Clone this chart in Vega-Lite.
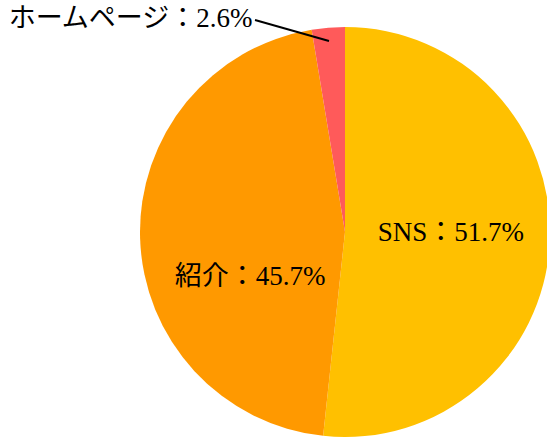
{
  "$schema": "https://vega.github.io/schema/vega-lite/v6.json",
  "width": 690,
  "height": 464,
  "autosize": "none",
  "padding": 0,
  "background": "white",
  "view": {"stroke": null},
  "config": {"font": "Liberation Serif, Noto Sans CJK JP"},
  "data": {
    "values": [
      {"category": "SNS", "value": 51.7},
      {"category": "紹介", "value": 45.7},
      {"category": "ホームページ", "value": 2.6}
    ]
  },
  "layer": [
    {
      "transform": [
        {"window": [{"op": "row_number", "as": "idx"}]},
        {"calculate": "datum.category + '：' + format(datum.value, '.1f') + '%'", "as": "label"}
      ],
      "encoding": {
        "theta": {"field": "value", "type": "quantitative", "stack": true},
        "order": {"field": "idx", "type": "quantitative"},
        "color": {
          "field": "category",
          "type": "nominal",
          "scale": {"domain": ["SNS", "紹介", "ホームページ"], "range": ["#FFC000", "#FF9900", "#FF5A5A"]},
          "legend": null
        }
      },
      "layer": [
        {"mark": {"type": "arc", "outerRadius": 205}},
        {
          "mark": {"type": "text", "radius": 106, "fontSize": 27, "align": "center", "baseline": "middle", "dy": -5, "font": "Liberation Serif, Noto Sans CJK JP"},
          "encoding": {
            "text": {"condition": {"test": "datum.category === 'SNS'", "field": "label"}, "value": ""},
            "color": {"value": "black"}
          }
        },
        {
          "mark": {"type": "text", "radius": 106, "fontSize": 27, "align": "center", "baseline": "middle", "dx": 11, "dy": 42, "font": "Liberation Serif, Noto Sans CJK JP"},
          "encoding": {
            "text": {"condition": {"test": "datum.category === '紹介'", "field": "label"}, "value": ""},
            "color": {"value": "black"}
          }
        },
        {
          "mark": {"type": "text", "radius": 214, "fontSize": 27, "align": "right", "baseline": "middle", "dx": -75, "font": "Liberation Serif, Noto Sans CJK JP"},
          "encoding": {
            "text": {"condition": {"test": "datum.category === 'ホームページ'", "field": "label"}, "value": ""},
            "color": {"value": "black"}
          }
        }
      ]
    },
    {
      "transform": [{"filter": "datum.category === 'ホームページ'"}],
      "mark": {"type": "rule", "color": "black", "strokeWidth": 2},
      "encoding": {
        "x": {"value": 255},
        "y": {"value": 20},
        "x2": {"value": 329},
        "y2": {"value": 41}
      }
    }
  ]
}
